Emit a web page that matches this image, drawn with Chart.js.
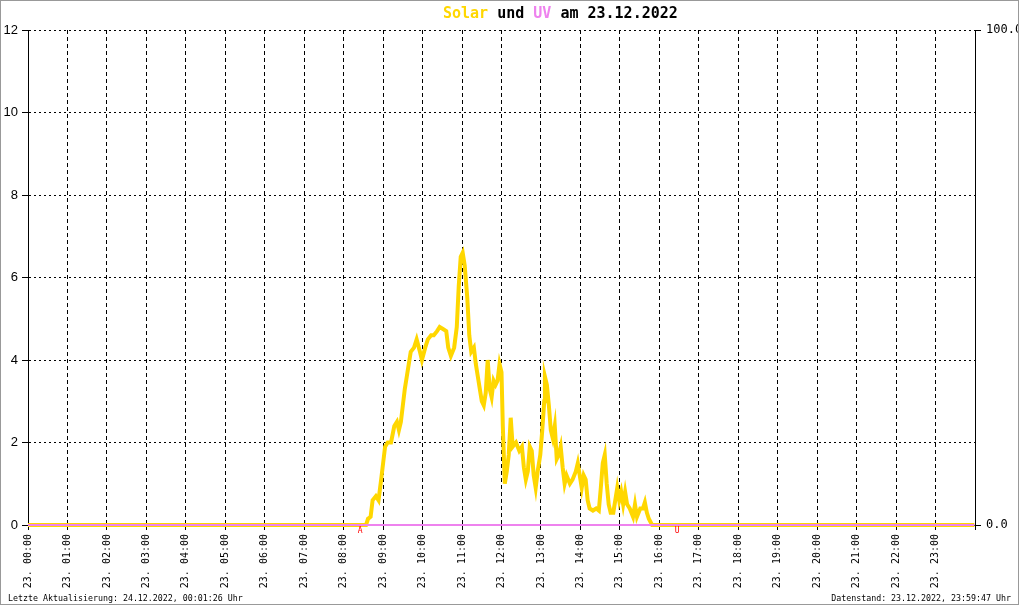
<!DOCTYPE html>
<html>
<head>
<meta charset="utf-8">
<script src="https://cdn.jsdelivr.net/npm/chart.js@4/dist/chart.umd.min.js"></script>
<style>
  html, body { margin: 0; padding: 0; background: #fff; }
  #wrap { width: 1020px; height: 606px; position: relative; }
</style>
</head>
<body>
<div id="wrap"><canvas id="solarChart" width="1020" height="606"></canvas></div>
<script>
// Messwerte Solar (Skala links) am 23.12.2022
const solarTimes = [
  '00:00', '08:34', '08:37', '08:41', '08:44', '08:49', '08:53', '08:57', '09:00', '09:03',
  '09:07', '09:12', '09:17', '09:21', '09:24', '09:27', '09:30', '09:33', '09:36', '09:39',
  '09:42', '09:47', '09:51', '09:56', '09:59', '10:04', '10:08', '10:13', '10:17', '10:22',
  '10:26', '10:31', '10:36', '10:39', '10:43', '10:48', '10:52', '10:55', '10:58', '11:01',
  '11:04', '11:08', '11:11', '11:14', '11:18', '11:21', '11:24', '11:27', '11:30', '11:33',
  '11:36', '11:39', '11:42', '11:45', '11:48', '11:51', '11:54', '11:57', '12:00', '12:02',
  '12:05', '12:08', '12:11', '12:14', '12:17', '12:22', '12:27', '12:31', '12:34', '12:37',
  '12:40', '12:43', '12:46', '12:49', '12:52', '12:55', '12:59', '13:02', '13:05', '13:06',
  '13:09', '13:12', '13:15', '13:18', '13:21', '13:24', '13:27', '13:30', '13:33', '13:36',
  '13:39', '13:44', '13:48', '13:53', '13:56', '13:59', '14:02', '14:05', '14:08', '14:11',
  '14:14', '14:19', '14:24', '14:28', '14:31', '14:34', '14:37', '14:40', '14:43', '14:46',
  '14:50', '14:53', '14:56', '14:59', '15:02', '15:05', '15:08', '15:11', '15:15', '15:20',
  '15:23', '15:26', '15:31', '15:35', '15:38', '15:41', '15:44', '15:49', '23:59'
];
const solarValues = [
  0, 0, 0.15, 0.2, 0.6, 0.7, 0.6, 1.1, 1.5, 1.9,
  2.0, 2.0, 2.4, 2.5, 2.3, 2.5, 2.9, 3.3, 3.6, 3.9,
  4.2, 4.3, 4.5, 4.2, 4.0, 4.3, 4.5, 4.6, 4.6, 4.7,
  4.8, 4.75, 4.7, 4.3, 4.1, 4.3, 4.8, 5.8, 6.5, 6.6,
  6.3, 5.5, 4.6, 4.2, 4.3, 3.9, 3.6, 3.3, 3.0, 2.9,
  3.2, 4.0, 3.3, 3.1, 3.5, 3.4, 3.5, 3.9, 3.7, 2.4,
  1.0, 1.3, 1.7, 2.6, 1.9, 2.0, 1.8, 1.9, 1.4, 1.1,
  1.3, 1.9, 1.8, 1.2, 0.9, 1.3, 1.7, 2.3, 3.0, 3.6,
  3.4, 2.9, 2.3, 2.1, 2.4, 1.6, 1.7, 1.9, 1.4, 1.0,
  1.2, 1.0, 1.1, 1.3, 1.5, 1.2, 0.9, 1.2, 1.1, 0.6,
  0.4, 0.35, 0.4, 0.35, 0.9, 1.5, 1.7, 1.0, 0.5, 0.3,
  0.3, 0.6, 0.9, 0.6, 0.8, 0.5, 0.8, 0.5, 0.4, 0.2,
  0.5, 0.2, 0.4, 0.4, 0.55, 0.3, 0.15, 0, 0
];
// UV-Index (Skala rechts) - den ganzen Tag 0
const uvTimes = ['00:00', '23:59'];
const uvValues = [0, 0];

// Sonnenaufgang / -untergang
const sunTimes = ['08:25', '16:27'];
const sunLabels = ['A', 'U'];

const hourTicks = [0,1,2,3,4,5,6,7,8,9,10,11,12,13,14,15,16,17,18,19,20,21,22,23];
const rightTicks = [0, 100];

const titleParts = [
  { text: 'Solar', color: '#ffd700' },
  { text: ' und ', color: '#000000' },
  { text: 'UV', color: '#ee82ee' },
  { text: ' am 23.12.2022', color: '#000000' }
];
const footerLeft = 'Letzte Aktualisierung: 24.12.2022, 00:01:26 Uhr';
const footerRight = 'Datenstand: 23.12.2022, 23:59:47 Uhr';

function toHours(t) {
  const [h, m] = t.split(':').map(Number);
  return h + m / 60;
}
function pad(n) { return String(n).padStart(2, '0'); }

const solarData = solarTimes.map((t, i) => ({ x: toHours(t), y: solarValues[i] }));
const uvData = uvTimes.map((t, i) => ({ x: toHours(t), y: uvValues[i] }));

const MONO = '"DejaVu Sans Mono", "Liberation Mono", monospace';

// Titel, Fusszeile, Sonnenmarker und Rahmen
const decorPlugin = {
  id: 'decor',
  afterDraw(chart) {
    const ctx = chart.ctx;
    const xs = chart.scales.x;
    ctx.save();

    // title
    ctx.font = 'bold 15px ' + MONO;
    ctx.textBaseline = 'middle';
    ctx.textAlign = 'left';
    let tx = 443;
    titleParts.forEach(p => {
      ctx.fillStyle = p.color;
      ctx.fillText(p.text, tx, 14);
      tx += ctx.measureText(p.text).width;
    });

    // sunrise / sunset
    ctx.font = '8px ' + MONO;
    ctx.fillStyle = '#ff0000';
    ctx.textAlign = 'center';
    sunTimes.forEach((t, i) => {
      ctx.fillText(sunLabels[i], xs.getPixelForValue(toHours(t)), 531);
    });

    // footer
    ctx.fillStyle = '#000';
    ctx.font = '8.3px ' + MONO;
    ctx.textAlign = 'left';
    ctx.fillText(footerLeft, 8, 599);
    ctx.textAlign = 'right';
    ctx.fillText(footerRight, 1011, 599);

    // border
    ctx.fillStyle = '#fff';
    ctx.fillRect(1018, 0, 2, 606);
    ctx.strokeStyle = '#999';
    ctx.lineWidth = 1;
    ctx.strokeRect(0.5, 0.5, 1018, 604);
    ctx.restore();
  }
};

const ctx = document.getElementById('solarChart').getContext('2d');
new Chart(ctx, {
  type: 'line',
  data: {
    datasets: [
      {
        label: 'UV',
        data: uvData,
        yAxisID: 'y2',
        borderColor: '#ee82ee',
        borderWidth: 2,
        pointRadius: 0,
        clip: 4
      },
      {
        label: 'Solar',
        data: solarData,
        yAxisID: 'y',
        borderColor: '#ffd700',
        borderWidth: 4,
        pointRadius: 0,
        tension: 0,
        clip: 4
      }
    ]
  },
  options: {
    responsive: false,
    animation: false,
    layout: { padding: { top: 30, left: 0, right: 0, bottom: 0 } },
    plugins: {
      legend: { display: false },
      title: { display: false },
      tooltip: { enabled: false }
    },
    scales: {
      x: {
        type: 'linear',
        min: 0,
        max: 24,
        afterBuildTicks: s => { s.ticks = hourTicks.concat([24]).map(v => ({ value: v })); },
        afterFit: s => { s.height = 81; },
        ticks: {
          autoSkip: false,
          maxRotation: 90,
          minRotation: 90,
          padding: 4,
          color: '#000',
          font: { family: MONO, size: 10 },
          callback: v => (v < 24 ? '23. ' + pad(v) + ':00' : '')
        },
        grid: {
          color: '#000',
          lineWidth: 1,
          tickLength: 5,
          tickColor: '#000',
          tickBorderDash: []
        },
        border: { display: true, color: '#000', width: 1, dash: [4, 3] }
      },
      y: {
        position: 'left',
        min: 0,
        max: 12,
        ticks: {
          stepSize: 2,
          padding: 4,
          color: '#000',
          font: { family: '"Liberation Sans", "DejaVu Sans", sans-serif', size: 13 }
        },
        afterFit: s => { s.width = 28; },
        grid: {
          color: '#000',
          lineWidth: 1,
          tickLength: 6,
          tickColor: '#000',
          tickBorderDash: []
        },
        border: { display: true, color: '#000', width: 1, dash: [2, 3] }
      },
      y2: {
        position: 'right',
        min: 0,
        max: 100,
        afterBuildTicks: s => { s.ticks = rightTicks.map(v => ({ value: v })); },
        afterFit: s => { s.width = 45; },
        ticks: {
          padding: 5,
          color: '#000',
          font: { family: MONO, size: 12 },
          callback: v => Number(v).toFixed(1)
        },
        grid: {
          drawOnChartArea: false,
          tickLength: 6,
          tickColor: '#000'
        },
        border: { display: true, color: '#000', width: 1 }
      }
    }
  },
  plugins: [decorPlugin]
});
</script>
</body>
</html>
